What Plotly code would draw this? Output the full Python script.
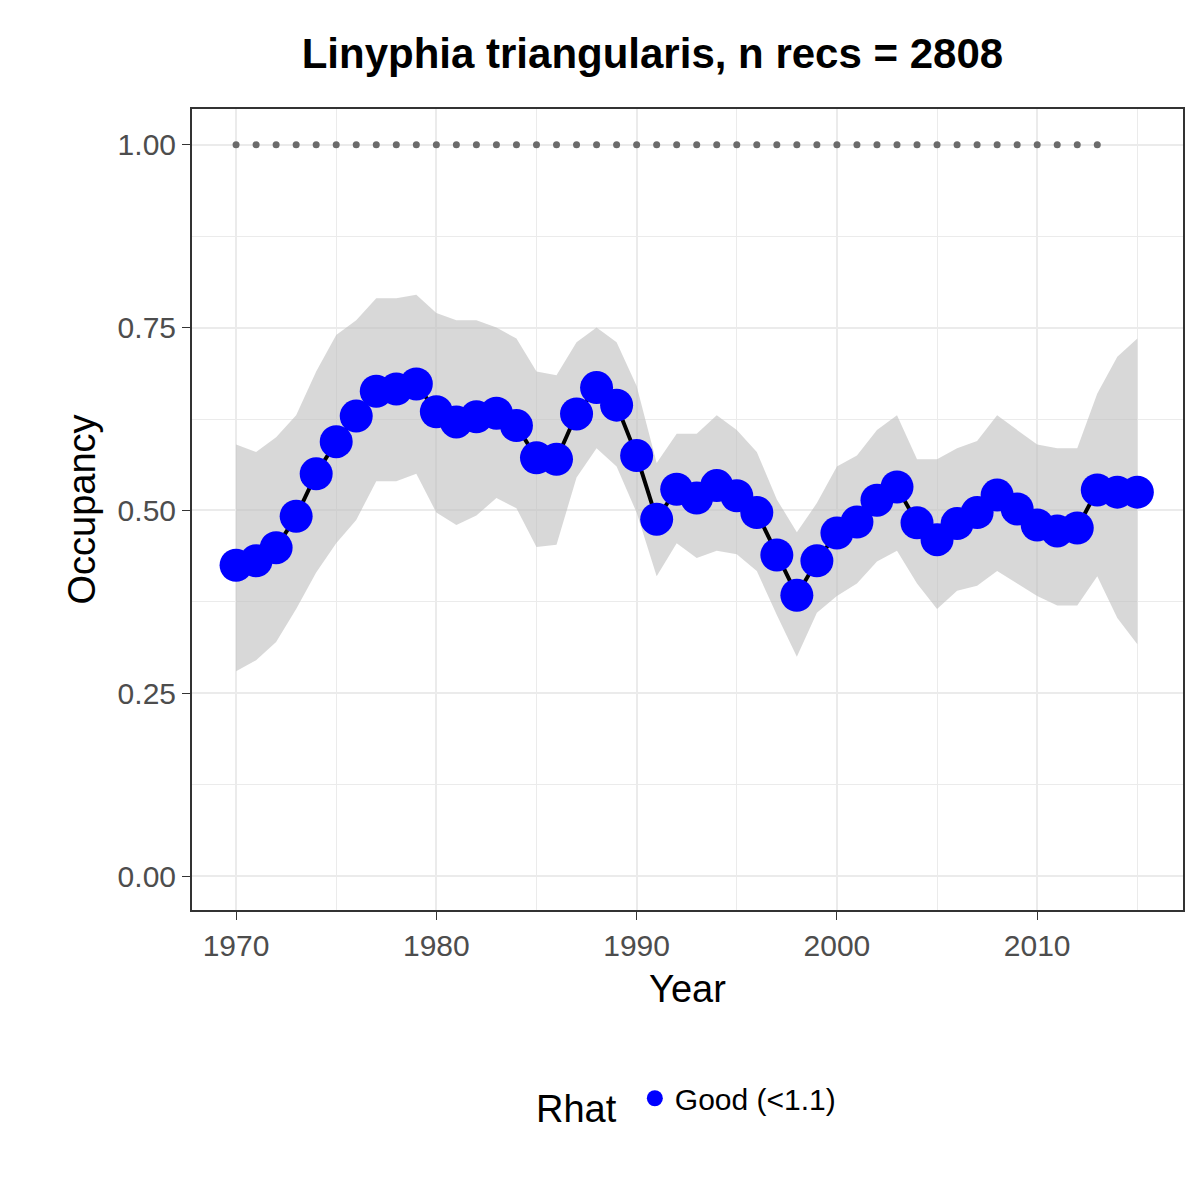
import plotly.graph_objects as go

years = list(range(1970, 2016))
occ = [0.425, 0.431, 0.449, 0.492, 0.550, 0.594, 0.629, 0.663, 0.666, 0.673,
       0.635, 0.621, 0.628, 0.633, 0.616, 0.572, 0.570, 0.632, 0.668, 0.644,
       0.575, 0.488, 0.529, 0.517, 0.534, 0.520, 0.497, 0.439, 0.384, 0.431,
       0.469, 0.484, 0.514, 0.532, 0.483, 0.460, 0.482, 0.497, 0.521, 0.502,
       0.480, 0.472, 0.476, 0.528, 0.525, 0.525]
upper = [0.59, 0.58, 0.60, 0.63, 0.69, 0.74, 0.76, 0.79, 0.79, 0.795,
         0.77, 0.76, 0.76, 0.75, 0.735, 0.69, 0.685, 0.73, 0.75, 0.73,
         0.67, 0.565, 0.605, 0.605, 0.63, 0.61, 0.58, 0.515, 0.47, 0.51,
         0.56, 0.575, 0.61, 0.63, 0.57, 0.57, 0.585, 0.595, 0.63, 0.61,
         0.59, 0.585, 0.585, 0.66, 0.71, 0.735]
lower = [0.28, 0.295, 0.32, 0.365, 0.415, 0.455, 0.487, 0.54, 0.54, 0.55,
         0.497, 0.48, 0.493, 0.517, 0.503, 0.45, 0.453, 0.545, 0.585, 0.56,
         0.497, 0.41, 0.455, 0.435, 0.445, 0.44, 0.417, 0.357, 0.30, 0.36,
         0.383, 0.40, 0.43, 0.445, 0.40, 0.365, 0.39, 0.397, 0.417, 0.40,
         0.383, 0.37, 0.37, 0.41, 0.353, 0.317]
rec_years = list(range(1970, 2014))
rec_flag = [1.0] * len(rec_years)

fig = go.Figure()
fig.add_trace(go.Scatter(x=years + years[::-1], y=upper + lower[::-1], fill="toself",
                         fillcolor="rgba(190,190,190,0.6)", line=dict(width=0),
                         showlegend=False, hoverinfo="skip"))
fig.add_trace(go.Scatter(x=rec_years, y=rec_flag, mode="markers",
                         marker=dict(color="#6b6b6b", size=7), showlegend=False))
fig.add_trace(go.Scatter(x=years, y=occ, mode="lines", line=dict(color="black", width=4),
                         showlegend=False))
fig.add_trace(go.Scatter(x=years, y=occ, mode="markers", name="Good (<1.1)",
                         marker=dict(color="blue", size=33)))

grid = "#EBEBEB"
fig.update_layout(
    width=1200, height=1200, plot_bgcolor="white", paper_bgcolor="white",
    font=dict(family="Liberation Sans, Arial", color="black"),
    margin=dict(l=184, r=25, t=101, b=298, autoexpand=False),
    title=dict(text="<b>Linyphia triangularis, n recs = 2808</b>", x=0.537, xanchor="center",
               y=0.962, yanchor="middle", font=dict(size=42)),
    xaxis=dict(range=[1967.8, 2017.28], tickvals=[1970, 1980, 1990, 2000, 2010],
               ticks="outside", ticklen=8, tickcolor="#333", showline=True, mirror=True,
               linecolor="#333", linewidth=2, gridcolor=grid, gridwidth=2, automargin=False,
               minor=dict(tickvals=[1975, 1985, 1995, 2005, 2015], showgrid=True, gridcolor=grid, gridwidth=1),
               tickfont=dict(size=30, color="#4D4D4D"), zeroline=False,
               title=dict(text="Year", font=dict(size=38), standoff=14)),
    yaxis=dict(range=[-0.0465, 1.049], tickvals=[0, 0.25, 0.5, 0.75, 1.0],
               ticktext=["0.00", "0.25", "0.50", "0.75", "1.00"],
               ticks="outside", ticklen=8, tickcolor="#333", showline=True, mirror=True,
               linecolor="#333", linewidth=2, gridcolor=grid, gridwidth=2, automargin=False,
               minor=dict(tickvals=[0.125, 0.375, 0.625, 0.875], showgrid=True, gridcolor=grid, gridwidth=1),
               tickfont=dict(size=30, color="#4D4D4D"), zeroline=False,
               title=dict(text="Occupancy", font=dict(size=38), standoff=10)),
    legend=dict(orientation="h", x=0.5, xanchor="center", y=-0.24, yanchor="middle",
                title=dict(text="Rhat ", font=dict(size=38)), font=dict(size=30)),
)
fig.write_html("out.html")
